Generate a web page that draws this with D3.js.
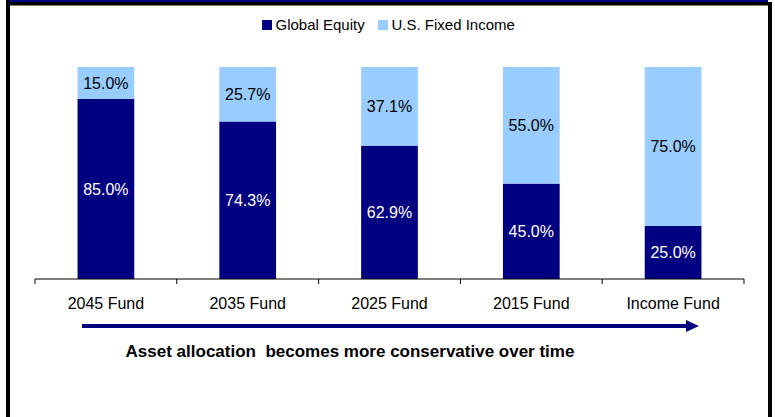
<!DOCTYPE html>
<html><head><meta charset="utf-8">
<script src="https://cdn.jsdelivr.net/npm/d3@7"></script>
<style>body{margin:0;background:#fff}svg{display:block}text{font-family:"Liberation Sans",Arial,sans-serif}</style>
</head><body><svg id="c" width="775" height="417"></svg>
<script>
const categories = ["2045 Fund","2035 Fund","2025 Fund","2015 Fund","Income Fund"];
const globalEquity = [85.0, 74.3, 62.9, 45.0, 25.0];
const fixedIncome = [15.0, 25.7, 37.1, 55.0, 75.0];
const seriesNames = ["Global Equity","U.S. Fixed Income"];
const colors = ["#000080","#99CCFF"];

const svg = d3.select("#c");
// frame
svg.append("rect").attr("x",6).attr("y",0).attr("width",4).attr("height",417).attr("fill","#000");
svg.append("rect").attr("x",768).attr("y",2).attr("width",4).attr("height",415).attr("fill","#000");
svg.append("rect").attr("x",6).attr("y",2).attr("width",766).attr("height",3.5).attr("fill","#000");
svg.append("rect").attr("x",10).attr("y",0).attr("width",758).attr("height",2).attr("fill","#000080");

const x = d3.scaleBand().domain(categories).range([35,744]).paddingInner(0.6).paddingOuter(0.3);
const y = d3.scaleLinear().domain([0,100]).range([279,67]);

const data = categories.map((c,i)=>({cat:c, ge:globalEquity[i], fi:fixedIncome[i]}));
const stack = d3.stack().keys(["ge","fi"])(data);
const g = svg.append("g");
stack.forEach((layer,li)=>{
  g.selectAll(null).data(layer).enter().append("rect")
    .attr("x",d=>x(d.data.cat)).attr("width",x.bandwidth())
    .attr("y",d=>y(d[1])).attr("height",d=>y(d[0])-y(d[1]))
    .attr("fill",colors[li]);
  g.selectAll(null).data(layer).enter().append("text")
    .attr("x",d=>x(d.data.cat)+x.bandwidth()/2)
    .attr("y",d=>(y(d[0])+y(d[1]))/2).attr("dy","0.35em")
    .attr("text-anchor","middle").attr("font-size",16)
    .attr("fill",li===0?"#fff":"#000")
    .text(d=>(d[1]-d[0]).toFixed(1)+"%");
});

// axis with ticks at band boundaries
const axisG = svg.append("g");
axisG.append("line").attr("x1",35).attr("x2",744).attr("y1",279).attr("y2",279).attr("stroke","#000").attr("stroke-width",1);
const bounds = categories.map(c=>x(c)-x.step()*x.paddingInner()/2).concat([744]);
bounds[0]=35;
axisG.selectAll(null).data(bounds).enter().append("line")
  .attr("x1",d=>d).attr("x2",d=>d).attr("y1",279).attr("y2",284).attr("stroke","#000");
axisG.selectAll(null).data(categories).enter().append("text")
  .attr("x",d=>x(d)+x.bandwidth()/2).attr("y",303).attr("dy","0.35em")
  .attr("text-anchor","middle").attr("font-size",16).attr("fill","#000").text(d=>d);

// arrow
svg.append("rect").attr("x",82).attr("y",324).attr("width",606).attr("height",4).attr("fill","#000080");
svg.append("path").attr("d","M686,320 L699,326 L686,332 Z").attr("fill","#000080");
svg.append("text").attr("x",350).attr("y",351).attr("dy","0.35em").attr("text-anchor","middle")
  .attr("font-size",17).attr("font-weight","bold").attr("fill","#000")
  .text("Asset allocation\u00a0 becomes more conservative over time");

// legend
const leg = svg.append("g");
const legX = [262, 378];
seriesNames.forEach((n,i)=>{
  leg.append("rect").attr("x",legX[i]).attr("y",20).attr("width",10).attr("height",10).attr("fill",colors[i]);
  leg.append("text").attr("x",legX[i]+13.5).attr("y",25).attr("dy","0.35em").attr("font-size",15).attr("fill","#000").text(n);
});
</script></body></html>
